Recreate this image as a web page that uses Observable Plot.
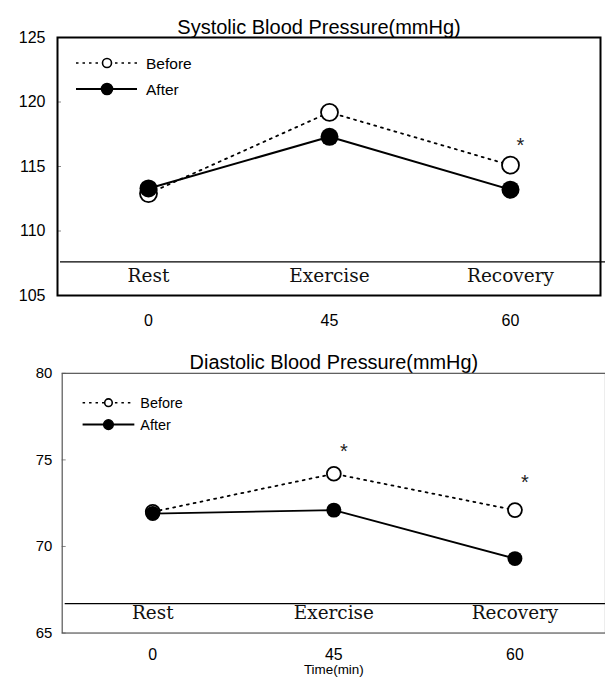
<!DOCTYPE html>
<html><head><meta charset="utf-8">
<script src="https://cdn.jsdelivr.net/npm/d3@7"></script>
<script src="https://cdn.jsdelivr.net/npm/@observablehq/plot@0.6"></script>
<style>
html,body{margin:0;padding:0;background:#fff;overflow:hidden}
#wrap{position:relative;width:605px;height:680px;overflow:hidden;background:#fff}
.panel{position:absolute;left:0}
</style></head><body>
<div id="wrap"><div id="p1" class="panel" style="top:0"></div><div id="p2" class="panel" style="top:340px"></div></div>
<script>
const times = ["0", "45", "60"];
const phases = ["Rest", "Exercise", "Recovery"];
const seriesNames = ["Before", "After"];
const sysBefore = [112.9, 119.2, 115.1];
const sysAfter = [113.3, 117.3, 113.2];
const diaBefore = [72.0, 74.2, 72.1];
const diaAfter = [71.9, 72.1, 69.3];
const sysTicks = [105, 110, 115, 120, 125];
const diaTicks = [65, 70, 75, 80];
const sysDivider = 107.6;
const diaDivider = 66.7;
const sysStars = [{time: "60", value: 116.6}];
const diaStars = [{time: "45", value: 75.5}, {time: "60", value: 73.7}];
const sysTitle = "Systolic Blood Pressure(mmHg)";
const diaTitle = "Diastolic Blood Pressure(mmHg)";
const xTitle = "Time(min)";

const SANS = "'Liberation Sans', Arial, sans-serif";
const SERIF = "'DejaVu Serif', 'Liberation Serif', serif";

function panel(c) {
  const rows = s => times.map((t, i) => ({time: t, value: s[i]}));
  const marks = [
    Plot.ruleY([c.divider], {stroke: "black", strokeWidth: 1.3, insetLeft: 3, insetRight: -5}),
    Plot.axisY({ticks: c.ticks, tickSize: 0, tickPadding: c.yPad, fontSize: c.yFont, fontFamily: SANS, label: null}),
    Plot.axisY({ticks: c.ticks, tickSize: -4, text: null, stroke: "#888", label: null}),
    Plot.axisX({tickSize: 0, tickPadding: c.xPad, fontSize: 16, fontFamily: SANS, label: null}),
    Plot.text(phases, {x: (d, i) => times[i], text: d => d, frameAnchor: "bottom", dy: -14,
      fontFamily: SERIF, fontSize: 18.5, fill: "#111"}),
    Plot.line(rows(c.before), {x: "time", y: "value", stroke: "black", strokeWidth: 1.8, strokeDasharray: "2,5"}),
    Plot.dot(rows(c.before), {x: "time", y: "value", r: c.r, fill: "white", stroke: "black", strokeWidth: 1.8}),
    Plot.line(rows(c.after), {x: "time", y: "value", stroke: "black", strokeWidth: c.lw}),
    Plot.dot(rows(c.after), {x: "time", y: "value", r: c.r + 0.5, fill: "black"}),
    Plot.text(c.stars, {x: "time", y: "value", text: () => "*", dx: 10, fontSize: 20, fontFamily: SANS, fill: "#222"}),
    Plot.text([c.title], {frameAnchor: "top", dy: c.titleDy, dx: c.titleDx, fontSize: 20, fontFamily: SANS}),
    Plot.frame({stroke: c.frameStroke, strokeWidth: c.frameWidth})
  ];
  if (c.xTitle) marks.push(Plot.text([c.xTitle], {frameAnchor: "bottom", dy: 41, fontSize: 13.5, fontFamily: SANS}));
  const chart = Plot.plot({
    width: c.width, height: c.height,
    marginTop: c.mt, marginBottom: c.mb, marginLeft: c.ml, marginRight: c.mr,
    style: {fontFamily: SANS, fontSize: "16px", background: "white", overflow: "visible", color: "black"},
    x: {type: "point", domain: times, padding: 0.5, label: null},
    y: {domain: c.domain, label: null},
    marks
  });
  // legend
  const svg = d3.select(chart);
  const g = svg.append("g").attr("text-anchor", "start");
  const L = c.legend;
  seriesNames.forEach((name, i) => {
    const y = L.y0 + i * L.dy;
    g.append("line").attr("x1", L.x1).attr("x2", L.x2).attr("y1", y).attr("y2", y)
      .attr("stroke", "black").attr("stroke-width", i === 0 ? 1.5 : 2)
      .attr("stroke-dasharray", i === 0 ? "2.5,4" : null);
    g.append("circle").attr("cx", L.cx).attr("cy", y).attr("r", i === 0 ? L.r : L.r + 1)
      .attr("fill", i === 0 ? "white" : "black").attr("stroke", "black").attr("stroke-width", 1.6);
    g.append("text").attr("x", L.tx).attr("y", y).attr("dy", "0.36em").attr("text-anchor", "start")
      .attr("font-size", L.font).attr("font-family", SANS).attr("fill", "black").text(name);
  });
  return chart;
}

document.getElementById("p1").appendChild(panel({
  title: sysTitle, before: sysBefore, after: sysAfter, ticks: sysTicks, domain: [105, 125],
  divider: sysDivider, stars: sysStars, width: 605, height: 340, mt: 37, mb: 45, ml: 57, mr: 5,
  r: 8.5, lw: 2, yPad: 12, yFont: 16, xPad: 19, titleDy: -18, titleDx: -10,
  frameStroke: "black", frameWidth: 2,
  legend: {x1: 76, x2: 137, cx: 107, tx: 146, y0: 63, dy: 26, r: 4.5, font: 15.5}
}));
document.getElementById("p2").appendChild(panel({
  title: diaTitle, before: diaBefore, after: diaAfter, ticks: diaTicks, domain: [65, 80],
  divider: diaDivider, stars: diaStars, width: 608, height: 340, mt: 33, mb: 46, ml: 62, mr: 0,
  r: 7, lw: 1.8, yPad: 10, yFont: 15, xPad: 16, titleDy: -19, titleDx: 0,
  frameStroke: "#555", frameWidth: 1.2, xTitle: xTitle,
  legend: {x1: 83, x2: 135, cx: 109, tx: 141, y0: 63, dy: 22, r: 3.8, font: 14.5}
}));
</script>
</body></html>
